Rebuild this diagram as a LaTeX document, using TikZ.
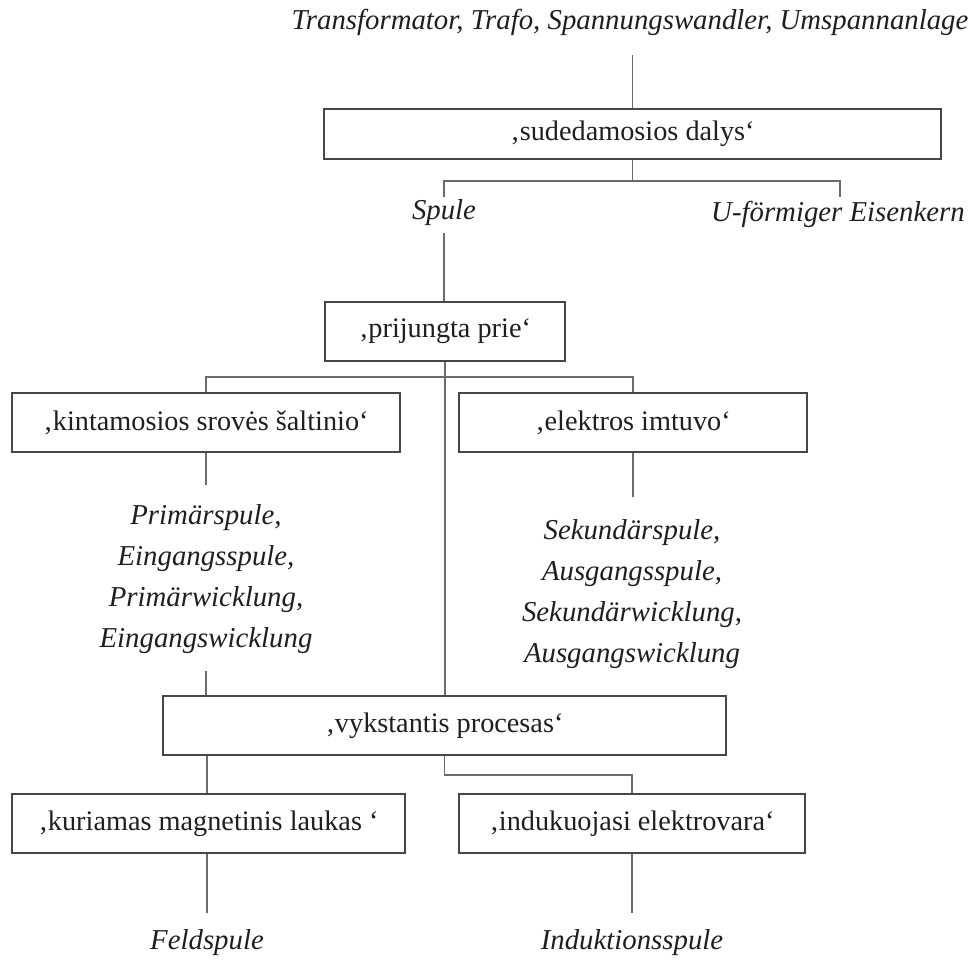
\documentclass[tikz,border=0pt]{standalone}
\usepackage{fontspec}
\setmainfont{Liberation Serif}
\begin{document}
\begin{tikzpicture}[x=0.75pt,y=-0.75pt,
  box/.style={draw=black!72, line width=1.1pt, fill=white, inner sep=0pt,
    font=\fontsize{21.2}{25}\selectfont, text=black!88},
  lbl/.style={font=\fontsize{21.6}{30.9}\selectfont\itshape, align=center,
    inner sep=0pt, text=black!88},
  conn/.style={draw=black!58, line width=1.1pt}]
\fill[white] (0,0) rectangle (974,960);
\useasboundingbox (0,0) rectangle (974,960);

% texts
\node[lbl] (title) at (630,22) {Transformator, Trafo, Spannungswandler, Umspannanlage};
\node[lbl] (spule) at (444,213) {Spule};
\node[lbl] (eisen) at (838,214) {U-förmiger Eisenkern};
\node[lbl] (prim) at (206,579) {Primärspule,\\Eingangsspule,\\Primärwicklung,\\Eingangswicklung};
\node[lbl] (sek) at (632,594) {Sekundärspule,\\Ausgangsspule,\\Sekundärwicklung,\\Ausgangswicklung};
\node[lbl] (feld) at (207,943) {Feldspule};
\node[lbl] (induk) at (632,943) {Induktionsspule};

% boxes
\node[box, minimum width=462.75pt, minimum height=37.5pt] (sud) at (632.5,134) {‚sudedamosios dalys‘};
\node[box, minimum width=180pt, minimum height=44.25pt] (pri) at (445,331.5) {‚prijungta prie‘};
\node[box, minimum width=291pt, minimum height=44.25pt] (kin) at (206,422.5) {‚kintamosios srovės šaltinio‘};
\node[box, minimum width=261pt, minimum height=44.25pt] (elk) at (633,422.5) {‚elektros imtuvo‘};
\node[box, minimum width=422.25pt, minimum height=44.25pt] (vyk) at (444.5,725.5) {‚vykstantis procesas‘};
\node[box, minimum width=294.75pt, minimum height=44.25pt] (kur) at (208.5,823.5) {‚kuriamas magnetinis laukas ‘};
\node[box, minimum width=259.5pt, minimum height=44.25pt] (ind) at (632,823.5) {‚indukuojasi elektrovara‘};

% connector points
\coordinate (t1) at (632.5,55);
\coordinate (j1) at (632.5,181);
\coordinate (s1) at (444,197);
\coordinate (e1) at (840,197);
\coordinate (s2) at (444,233);
\coordinate (j2) at (445,377);
\coordinate (p1) at (206,485);
\coordinate (p2) at (206,671);
\coordinate (k1) at (633,497);
\coordinate (j3) at (444.5,775);
\coordinate (f1) at (207,913);
\coordinate (i1) at (632,913);

% connectors
\draw[conn] (t1) -- (sud.north);
\draw[conn] (sud.south) -- (j1);
\draw[conn] (s1) |- (j1) -| (e1);
\draw[conn] (s2) -- (pri.north -| s2);
\draw[conn] (pri.south) -- (vyk.north -| pri.south);
\draw[conn] (kin.north) |- (j2) -| (elk.north);
\draw[conn] (kin.south) -- (p1);
\draw[conn] (p2) -- (vyk.north -| p2);
\draw[conn] (elk.south) -- (k1);
\draw[conn] (vyk.south -| f1) -- (kur.north -| f1);
\draw[conn] (vyk.south) -- (j3) -| (ind.north);
\draw[conn] (kur.south -| f1) -- (f1);
\draw[conn] (ind.south) -- (i1);
\end{tikzpicture}
\end{document}
